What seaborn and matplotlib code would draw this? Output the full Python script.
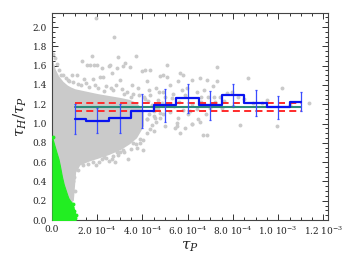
import numpy as np
import pandas as pd
import matplotlib
matplotlib.use("Agg")
import matplotlib.pyplot as plt
import seaborn as sns
from matplotlib.ticker import AutoMinorLocator, FixedLocator, FixedFormatter

# ---------------- data (x values in units of 1e-3) ----------------
SCALE = 1e-3

# binned mean (step) with errors
bin_x = [0.1, 0.2, 0.3, 0.4, 0.5, 0.6, 0.7, 0.8, 0.9, 1.0, 1.1]
bin_mean = [1.048, 1.027, 1.055, 1.130, 1.187, 1.262, 1.187, 1.296, 1.214, 1.168, 1.227]
bin_err = [0.156, 0.13, 0.15, 0.176, 0.172, 0.152, 0.153, 0.117, 0.131, 0.121, 0.10]

# horizontal reference lines
ref_x = [0.1, 1.1]
ref_mean = 1.170
ref_upper = 1.212
ref_lower = 1.127

# dense core of the grey cloud (envelope)
core_x = [0.0, 0.01, 0.025, 0.045, 0.065, 0.08, 0.09, 0.10, 0.12, 0.16, 0.20, 0.25, 0.30, 0.34, 0.37, 0.40]
core_hi = [1.64, 1.56, 1.49, 1.43, 1.39, 1.37, 1.36, 1.35, 1.34, 1.32, 1.30, 1.28, 1.26, 1.24, 1.21, 1.13]
core_lo = [0.0, 0.0, 0.0, 0.0, 0.10, 0.19, 0.21, 0.50, 0.58, 0.62, 0.65, 0.69, 0.74, 0.80, 0.86, 0.98]

# scattered grey points
grey_x = [0.196, 0.272, 0.177, 0.132, 0.155, 0.17, 0.185, 0.2, 0.372, 0.29, 0.324, 0.257, 0.221,
          0.346, 0.287, 0.508, 0.434, 0.397, 0.265, 0.088, 0.11, 0.478, 0.558, 0.522, 0.419, 0.302,
          0.213, 0.227, 0.14, 0.18, 0.353, 0.381, 0.43, 0.46, 0.49, 0.575, 0.597, 0.32, 0.35, 0.23,
          0.26, 0.254, 0.315, 0.728, 0.41, 0.49, 0.51, 0.566, 0.58, 0.655, 0.684, 0.868, 1.015,
          1.138, 0.731, 0.618, 0.711, 0.672, 0.643, 0.69, 0.715, 0.743, 0.772, 0.795, 0.824, 0.89,
          0.93, 0.647, 0.59, 0.66, 0.70, 0.75, 0.831, 0.669, 0.993, 0.566, 0.552, 0.618, 0.404,
          0.375, 0.404, 0.338, 0.30, 0.315, 0.22, 0.25, 0.28, 0.478, 0.5, 0.449, 0.545, 0.39, 0.434,
          0.287, 0.30, 0.23, 0.265, 0.125, 0.14, 0.434, 0.471, 0.53, 0.508, 0.478, 0.456, 0.552,
          0.588, 0.618, 0.655, 0.684, 0.36, 0.581, 0.61, 0.486, 0.559, 0.42, 0.44, 0.41, 0.45,
          0.005, 0.012, 0.02, 0.03, 0.05, 0.07,
          # fuzz along the top edge of the core
          0.04, 0.06, 0.075, 0.095, 0.115, 0.13, 0.15, 0.165, 0.19, 0.205, 0.24, 0.27, 0.285,
          0.31, 0.33, 0.36, 0.385, 0.405, 0.425, 0.44, 0.455, 0.47, 0.50, 0.535,
          # fuzz along the lower edge
          0.105, 0.115, 0.135, 0.16, 0.18, 0.195, 0.21, 0.24, 0.27, 0.29, 0.32, 0.35, 0.37,
          0.39, 0.42, 0.44, 0.46, 0.095, 0.10, 0.098, 0.085,
          # semi-dense zone to the right
          0.42, 0.43, 0.45, 0.47, 0.49, 0.52, 0.54, 0.56, 0.60, 0.62, 0.64, 0.66, 0.68, 0.72,
          0.76, 0.80, 0.85, 0.95, 1.05]
grey_y = [2.09, 1.90, 1.70, 1.65, 1.61, 1.61, 1.61, 1.61, 1.70, 1.69, 1.63, 1.61, 1.58,
          1.59, 1.58, 1.61, 1.56, 1.54, 1.52, 1.50, 1.50, 1.49, 1.44, 1.40, 1.44, 1.45,
          1.48, 1.48, 1.46, 1.46, 1.40, 1.37, 1.35, 1.37, 1.33, 1.35, 1.37, 1.31, 1.28, 1.34,
          1.37, 1.60, 1.60, 1.59, 1.56, 1.50, 1.48, 1.52, 1.50, 1.47, 1.45, 1.47, 1.37,
          1.21, 1.44, 1.45, 1.39, 1.35, 1.33, 1.28, 1.28, 1.28, 1.32, 1.33, 1.28, 1.21,
          1.21, 1.05, 1.30, 1.27, 1.16, 1.16, 0.99, 0.885, 0.97, 0.90, 0.97, 1.00, 0.83,
          0.75, 0.73, 0.63, 0.78, 0.73, 0.63, 0.61, 0.60, 1.06, 0.97, 1.13, 0.95, 0.80, 0.94,
          0.71, 0.70, 0.65, 0.63, 0.60, 0.63, 1.30, 1.33, 1.26, 1.20, 1.11, 1.06, 1.01,
          0.95, 1.00, 1.02, 0.885, 0.80, 1.14, 1.13, 1.21, 1.06, 1.05, 1.18, 1.25, 0.92,
          1.72, 1.68, 1.62, 1.56, 1.50, 1.45,
          1.50, 1.47, 1.44, 1.43, 1.41, 1.40, 1.42, 1.38, 1.40, 1.37, 1.39, 1.35, 1.40,
          1.36, 1.33, 1.31, 1.30, 1.27, 1.23, 1.19, 1.15, 1.24, 1.28, 1.31,
          0.55, 0.52, 0.57, 0.58, 0.60, 0.57, 0.60, 0.64, 0.66, 0.67, 0.70, 0.74, 0.79,
          0.84, 0.90, 0.99, 1.02, 0.40, 0.30, 0.45, 0.22,
          1.05, 1.10, 1.08, 1.15, 1.10, 1.12, 1.18, 1.22, 1.10, 1.20, 1.15, 1.22, 1.10, 1.22,
          1.23, 1.18, 1.25, 1.24, 1.19]

# green (low) region envelope and scattered points
green_x = [0.002, 0.004, 0.010, 0.020, 0.029, 0.036, 0.044, 0.052, 0.059, 0.066, 0.072, 0.080, 0.088, 0.095, 0.101, 0.104]
green_hi = [0.84, 0.83, 0.78, 0.70, 0.63, 0.55, 0.45, 0.37, 0.32, 0.27, 0.23, 0.20, 0.18, 0.13, 0.08, 0.0]
green_pts_x = [0.004, 0.09, 0.098, 0.105, 0.085, 0.10, 0.075, 0.094, 0.082]
green_pts_y = [0.86, 0.14, 0.09, 0.05, 0.03, 0.02, 0.07, 0.17, 0.12]

# ticks
xticks = [0.0, 0.2, 0.4, 0.6, 0.8, 1.0, 1.2]
xticklabels = ["0.0", r"2.0 10$^{-4}$", r"4.0 10$^{-4}$", r"6.0 10$^{-4}$",
               r"8.0 10$^{-4}$", r"1.0 10$^{-3}$", r"1.2 10$^{-3}$"]
yticks = [0.0, 0.2, 0.4, 0.6, 0.8, 1.0, 1.2, 1.4, 1.6, 1.8, 2.0]

# ---------------- plotting ----------------
sns.set_theme(style="ticks")
plt.rcParams["font.family"] = ["DejaVu Serif"]
plt.rcParams["mathtext.fontset"] = "dejavuserif"

fig = plt.figure(figsize=(3.42, 2.67), dpi=100)
ax = fig.add_axes([0.152, 0.176, 0.807, 0.775])

GREY = "#cacaca"
GREEN = "#22ee22"

sx = np.array(core_x) * SCALE
ax.fill_between(sx, core_lo, core_hi, color=GREY, lw=1.5, edgecolor=GREY, zorder=1)
sns.scatterplot(x=np.array(grey_x) * SCALE, y=grey_y, color=GREY, s=8, linewidth=0, ax=ax, zorder=2)

gx = np.array(green_x) * SCALE
ax.fill_between(gx, 0, green_hi, color=GREEN, lw=0.8, edgecolor=GREEN, zorder=3)
sns.scatterplot(x=np.array(green_pts_x) * SCALE, y=green_pts_y, color=GREEN, s=8, linewidth=0, ax=ax, zorder=3)

rx = np.array(ref_x) * SCALE
dash = (0, (3.6, 2.2))
sns.lineplot(x=rx, y=[ref_upper, ref_upper], color="#ff2a2a", lw=1.4, linestyle=dash, ax=ax, zorder=4)
sns.lineplot(x=rx, y=[ref_lower, ref_lower], color="#ff2a2a", lw=1.4, linestyle=dash, ax=ax, zorder=4)
sns.lineplot(x=rx, y=[ref_mean, ref_mean], color="#2b8a78", lw=1.5, ax=ax, zorder=5)

bx = np.array(bin_x) * SCALE
ax.errorbar(bx, bin_mean, yerr=bin_err, fmt="none", ecolor="#3a4cff", elinewidth=0.9,
            capsize=1.0, capthick=0.9, zorder=6)
sns.lineplot(x=bx, y=bin_mean, drawstyle="steps-mid", color="#0a14f0", lw=1.6, ax=ax, zorder=7)

ax.set_xlim(0, 1.22 * SCALE)
ax.set_ylim(0, 2.145)
ax.xaxis.set_major_locator(FixedLocator(np.array(xticks) * SCALE))
ax.xaxis.set_major_formatter(FixedFormatter(xticklabels))
ax.xaxis.set_minor_locator(AutoMinorLocator(4))
ax.yaxis.set_major_locator(FixedLocator(yticks))
ax.set_yticklabels([f"{v:.1f}" for v in yticks])
ax.yaxis.set_minor_locator(AutoMinorLocator(4))

ax.tick_params(which="both", direction="in", top=True, right=True, colors="#333333",
               labelcolor="#222222", labelsize=6.5, width=0.7)
ax.tick_params(which="major", length=4.5)
ax.tick_params(which="minor", length=2.5)
for sp in ax.spines.values():
    sp.set_color("#444444")
    sp.set_linewidth(0.8)

ax.set_xlabel(r"$\tau_P$", fontsize=11, labelpad=2)
ax.set_ylabel(r"$\tau_H/\tau_P$", fontsize=11, labelpad=3)

fig.savefig("out.png", dpi=100)
